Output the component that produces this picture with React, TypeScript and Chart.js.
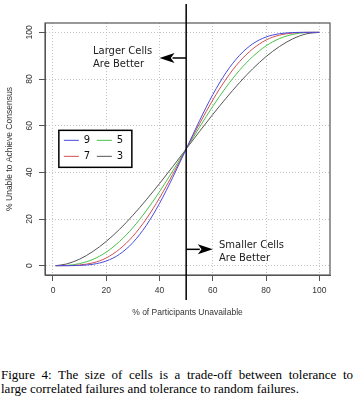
import React, { useEffect, useRef } from 'react';
import { Chart, registerables } from 'chart.js';

Chart.register(...registerables);

// ---- data ----
const xValues = [1, 5, 10, 15, 20, 25, 30, 35, 40, 45, 50, 55, 60, 65, 70, 75, 80, 85, 90, 95, 100];
const seriesLabels = ['9', '7', '5', '3'];
const series9 = [0.0, 0.0, 0.1, 0.6, 2.0, 4.9, 9.9, 17.2, 26.7, 37.9, 50, 62.1, 73.3, 82.8, 90.1, 95.1, 98.0, 99.4, 99.9, 100, 100];
const series7 = [0.0, 0.0, 0.3, 1.2, 3.3, 7.1, 12.6, 20.0, 29.0, 39.2, 50, 60.8, 71.0, 80.0, 87.4, 92.9, 96.7, 98.8, 99.7, 100, 100];
const series5 = [0.0, 0.1, 0.9, 2.7, 5.8, 10.4, 16.3, 23.5, 31.7, 40.7, 50, 59.3, 68.3, 76.5, 83.7, 89.6, 94.2, 97.3, 99.1, 99.9, 100];
const series3 = [0.0, 0.7, 2.8, 6.1, 10.4, 15.6, 21.6, 28.2, 35.2, 42.5, 50, 57.5, 64.8, 71.8, 78.4, 84.4, 89.6, 93.9, 97.2, 99.3, 100];
const xTicks = [0, 20, 40, 60, 80, 100];
const yTicks = [0, 20, 40, 60, 80, 100];
const xTitle = '% of Participants Unavailable';
const yTitle = '% Unable to Achieve Consensus';
const dividerX = 50;
const leftNote = ['Larger Cells', 'Are Better'];
const rightNote = ['Smaller Cells', 'Are Better'];
const leftArrow = { x0: 50, x1: 40, y: 89, textX: 15, textY: 89 };
const rightArrow = { x0: 50, x1: 60, y: 7, textX: 62.3, textY: 6 };
const legendAnchor = { x: 2.2, y: 58 };
const captionLines = [
  'Figure 4: The size of cells is a trade-off between tolerance to',
  'large correlated failures and tolerance to random failures.',
];

const allSeries = [series9, series7, series5, series3];
const colors = ['#4a4ae0', '#d05050', '#48c048', '#555555'];

const AXIS_FONT = '"Liberation Sans", Arial, sans-serif';
const NOTE_FONT = '"DejaVu Sans", sans-serif';

function drawArrow(ctx: CanvasRenderingContext2D, x0: number, y: number, x1: number) {
  const dir = Math.sign(x1 - x0);
  const headLen = 15;
  const half = 5;
  ctx.save();
  ctx.strokeStyle = '#000';
  ctx.fillStyle = '#000';
  ctx.lineWidth = 1.5;
  ctx.beginPath();
  ctx.moveTo(x0, y);
  ctx.lineTo(x1 - dir * headLen + dir * 2, y);
  ctx.stroke();
  ctx.beginPath();
  ctx.moveTo(x1, y);
  ctx.lineTo(x1 - dir * headLen, y - half);
  ctx.lineTo(x1 - dir * headLen * 0.75, y);
  ctx.lineTo(x1 - dir * headLen, y + half);
  ctx.closePath();
  ctx.fill();
  ctx.restore();
}

const decorPlugin = {
  id: 'decor',
  afterDraw(chart: any) {
    const ctx: CanvasRenderingContext2D = chart.ctx;
    const xs = chart.scales.x;
    const ys = chart.scales.y;
    const area = chart.chartArea;

    // plot box
    ctx.save();
    ctx.strokeStyle = '#555';
    ctx.lineWidth = 1.2;
    ctx.strokeRect(area.left, area.top, area.right - area.left, area.bottom - area.top);
    ctx.restore();

    // rotated y tick labels
    ctx.save();
    ctx.fillStyle = '#333';
    ctx.font = `8.5px ${AXIS_FONT}`;
    ctx.textAlign = 'center';
    ctx.textBaseline = 'middle';
    for (const v of yTicks) {
      const py = ys.getPixelForValue(v);
      ctx.save();
      ctx.translate(30, py);
      ctx.rotate(-Math.PI / 2);
      ctx.fillText(String(v), 0, 0);
      ctx.restore();
    }
    ctx.restore();

    // vertical divider
    const vx = xs.getPixelForValue(dividerX);
    ctx.save();
    ctx.strokeStyle = '#000';
    ctx.lineWidth = 1.5;
    ctx.beginPath();
    ctx.moveTo(vx, area.top - 19);
    ctx.lineTo(vx, area.bottom + 25);
    ctx.stroke();
    ctx.restore();

    // arrows
    drawArrow(ctx, xs.getPixelForValue(leftArrow.x0), ys.getPixelForValue(leftArrow.y), xs.getPixelForValue(leftArrow.x1));
    drawArrow(ctx, xs.getPixelForValue(rightArrow.x0), ys.getPixelForValue(rightArrow.y), xs.getPixelForValue(rightArrow.x1));

    // notes (left aligned)
    ctx.save();
    ctx.fillStyle = '#222';
    ctx.font = `10px ${NOTE_FONT}`;
    ctx.textAlign = 'left';
    ctx.textBaseline = 'middle';
    const drawNote = (lines: string[], dx: number, dy: number) => {
      const cx = xs.getPixelForValue(dx);
      const cy = ys.getPixelForValue(dy);
      lines.forEach((l, i) => ctx.fillText(l, cx, cy + (i - (lines.length - 1) / 2) * 12.5));
    };
    drawNote(leftNote, leftArrow.textX, leftArrow.textY);
    drawNote(rightNote, rightArrow.textX, rightArrow.textY);
    ctx.restore();

    // legend (2 columns, filled column-wise)
    const lx = xs.getPixelForValue(legendAnchor.x);
    const ly = ys.getPixelForValue(legendAnchor.y);
    const bw = 73;
    const bh = 37;
    ctx.save();
    ctx.fillStyle = '#fff';
    ctx.fillRect(lx, ly, bw, bh);
    ctx.strokeStyle = '#000';
    ctx.lineWidth = 1.5;
    ctx.strokeRect(lx, ly, bw, bh);
    ctx.font = `10px ${NOTE_FONT}`;
    ctx.textAlign = 'left';
    ctx.textBaseline = 'middle';
    chart.data.datasets.forEach((ds: any, i: number) => {
      const col = Math.floor(i / 2);
      const row = i % 2;
      const x0 = lx + 5 + col * 33;
      const y0 = ly + 10 + row * 16;
      ctx.strokeStyle = ds.borderColor;
      ctx.lineWidth = 1;
      ctx.beginPath();
      ctx.moveTo(x0, y0);
      ctx.lineTo(x0 + 15, y0);
      ctx.stroke();
      ctx.fillStyle = '#111';
      ctx.fillText(ds.label, x0 + 20, y0 + 0.5);
    });
    ctx.restore();
  },
};

export default function App() {
  const canvasRef = useRef<HTMLCanvasElement | null>(null);

  useEffect(() => {
    document.body.style.margin = '0';
    const canvas = canvasRef.current;
    if (!canvas) return;
    const chart = new Chart(canvas, {
      type: 'line',
      data: {
        datasets: allSeries.map((s, i) => ({
          label: seriesLabels[i],
          data: xValues.map((x, j) => ({ x, y: s[j] })),
          borderColor: colors[i],
          backgroundColor: colors[i],
          borderWidth: 1,
          pointRadius: 0,
          fill: false,
          cubicInterpolationMode: 'monotone' as const,
        })),
      },
      options: {
        animation: false,
        responsive: false,
        maintainAspectRatio: false,
        layout: { padding: { left: 0, top: 23, right: 24, bottom: 0 } },
        plugins: { legend: { display: false }, tooltip: { enabled: false } },
        scales: {
          x: {
            type: 'linear',
            min: -3,
            max: 104,
            afterBuildTicks: (scale: any) => {
              scale.ticks = xTicks.map((v) => ({ value: v }));
            },
            afterFit: (scale: any) => {
              scale.height = 65;
            },
            grid: {
              color: '#c4c4c4',
              lineWidth: 1,
              tickLength: 6,
              tickColor: '#555',
              tickWidth: 1,
            },
            border: { display: true, color: '#555', width: 1, dash: [1, 2] },
            ticks: {
              color: '#333',
              font: { family: AXIS_FONT, size: 8.5 },
              padding: 5,
              maxRotation: 0,
              autoSkip: false,
            },
            title: {
              display: true,
              text: xTitle,
              color: '#333',
              font: { family: AXIS_FONT, size: 8.5 },
              padding: { top: 0, bottom: 22 },
            },
          },
          y: {
            type: 'linear',
            min: -4,
            max: 104,
            afterBuildTicks: (scale: any) => {
              scale.ticks = yTicks.map((v) => ({ value: v }));
            },
            afterFit: (scale: any) => {
              scale.width = 45;
            },
            grid: {
              color: '#c4c4c4',
              lineWidth: 1,
              tickLength: 6,
              tickColor: '#555',
              tickWidth: 1,
            },
            border: { display: true, color: '#555', width: 1, dash: [1, 2] },
            ticks: { display: false },
            title: {
              display: true,
              text: yTitle,
              color: '#333',
              font: { family: AXIS_FONT, size: 8.5 },
              padding: { top: 5, bottom: 0 },
            },
          },
        },
      },
      plugins: [decorPlugin],
    });
    return () => chart.destroy();
  }, []);

  return (
    <div style={{ position: 'absolute', left: 0, top: 0, width: 354, height: 400, background: '#fff', overflow: 'hidden' }}>
      <canvas ref={canvasRef} width={354} height={340} style={{ display: 'block', width: 354, height: 340 }} />
      <div
        style={{
          position: 'absolute',
          left: 1,
          top: 368,
          width: 352,
          fontFamily: '"Liberation Serif", "Times New Roman", serif',
          fontSize: 13,
          lineHeight: '14px',
          color: '#000',
        }}
      >
        <div style={{ textAlign: 'justify', textAlignLast: 'justify', whiteSpace: 'nowrap' as const }}>{captionLines[0]}</div>
        <div style={{ whiteSpace: 'nowrap' as const }}>{captionLines[1]}</div>
      </div>
    </div>
  );
}
